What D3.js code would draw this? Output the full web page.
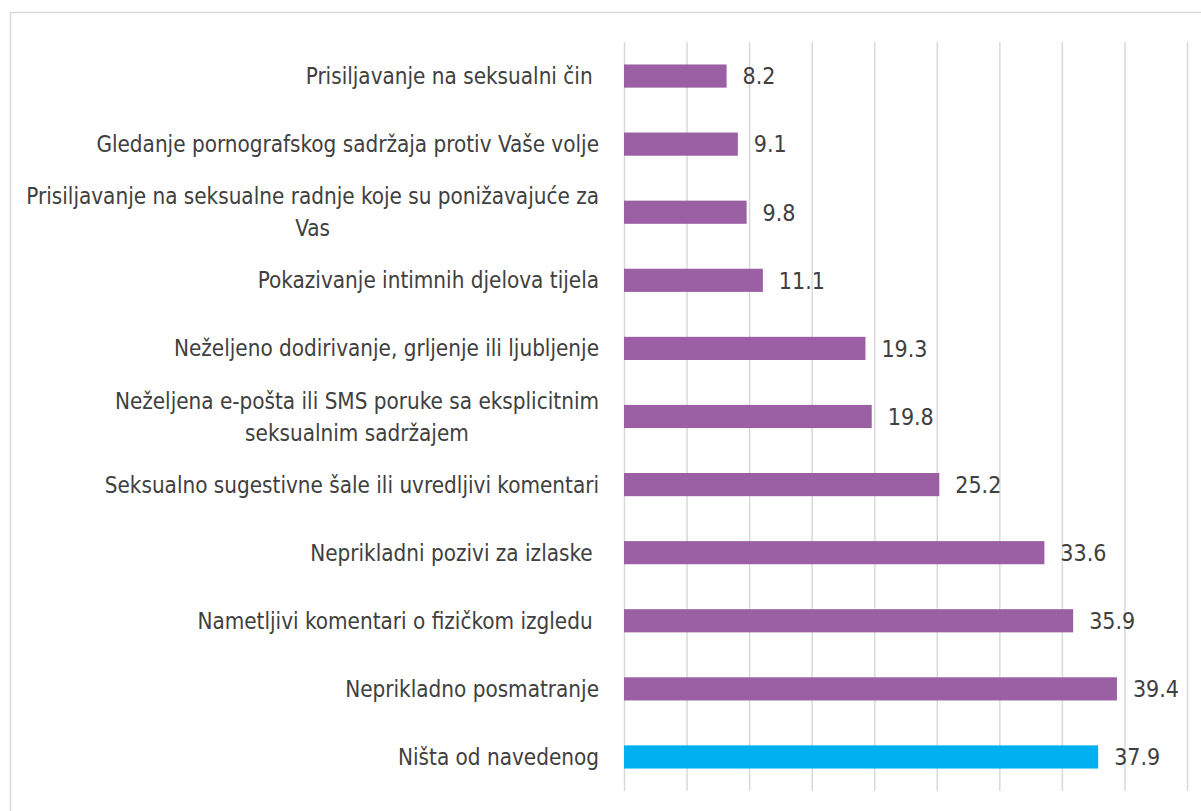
<!DOCTYPE html>
<html>
<head>
<meta charset="utf-8">
<script src="https://cdn.jsdelivr.net/npm/d3@7"></script>
<style>
  body { margin: 0; background: #fff; }
  svg text { font-family: "Liberation Sans Narrow", "DejaVu Sans Condensed", sans-serif; fill: #404040; white-space: pre; }
</style>
</head>
<body>
<div id="chart"></div>
<script>
// labels, "\n" marks where the original wraps
const categories = [
    "Prisiljavanje na seksualni čin ",
    "Gledanje pornografskog sadržaja protiv Vaše volje",
    "Prisiljavanje na seksualne radnje koje su ponižavajuće za\nVas",
    "Pokazivanje intimnih djelova tijela",
    "Neželjeno dodirivanje, grljenje ili ljubljenje",
    "Neželjena e-pošta ili SMS poruke sa eksplicitnim\nseksualnim sadržajem",
    "Seksualno sugestivne šale ili uvredljivi komentari",
    "Neprikladni pozivi za izlaske ",
    "Nametljivi komentari o fizičkom izgledu ",
    "Neprikladno posmatranje",
    "Ništa od navedenog"
];
const values = [8.2, 9.1, 9.8, 11.1, 19.3, 19.8, 25.2, 33.6, 35.9, 39.4, 37.9];
const barColors = ["#9B5FA3", "#9B5FA3", "#9B5FA3", "#9B5FA3", "#9B5FA3", "#9B5FA3",
    "#9B5FA3", "#9B5FA3", "#9B5FA3", "#9B5FA3", "#00B0F0"];
const xTicks = [0, 5, 10, 15, 20, 25, 30, 35, 40, 45];

function drawChart() {
    const width = 1201, height = 811;
    const data = categories.map((c, i) => ({ name: c, value: values[i], color: barColors[i] }));

    const svg = d3.select('#chart').append('svg')
        .attr('width', width)
        .attr('height', height);

    // outer chart frame (right/bottom edges fall outside the picture)
    svg.append('rect')
        .attr('x', 10.5).attr('y', 12.5)
        .attr('width', 1210).attr('height', 820)
        .attr('fill', 'none')
        .attr('stroke', '#D9D9D9')
        .attr('stroke-width', 1.5);

    const x = d3.scaleLinear().domain([0, 45]).range([624, 1187]);
    const y = d3.scaleBand().domain(categories).range([42, 791]).paddingInner(0.66).paddingOuter(0.33);

    // vertical gridlines
    svg.append('g')
        .attr('transform', 'translate(0,791)')
        .call(d3.axisBottom(x).tickValues(xTicks).tickSize(-(791 - 42)).tickFormat(''))
        .call(g => g.select('.domain').remove())
        .call(g => g.selectAll('line').attr('stroke', '#D9D9D9').attr('stroke-width', 1.5));

    svg.selectAll('rect.bar')
        .data(data)
        .enter()
        .append('rect')
        .attr('class', 'bar')
        .attr('x', x(0))
        .attr('y', d => y(d.name))
        .attr('width', d => x(d.value) - x(0))
        .attr('height', y.bandwidth())
        .attr('fill', d => d.color);

    // value labels
    svg.selectAll('text.val')
        .data(data)
        .enter()
        .append('text')
        .attr('class', 'val')
        .attr('x', d => x(d.value) + 16)
        .attr('y', d => y(d.name) + y.bandwidth() / 2)
        .attr('dy', '0.36em')
        .style('font-size', '23px')
        .text(d => d.value.toFixed(1));

    // category labels: block right aligned, lines centred inside it
    const lineH = 32;
    const labelRight = 599;
    data.forEach(d => {
        const lines = d.name.split('\n');
        const cy = y(d.name) + y.bandwidth() / 2;
        const t = svg.append('text')
            .style('font-size', '22.3px')
            .attr('text-anchor', 'end')
            .attr('x', labelRight);
        lines.forEach((ln, j) => {
            t.append('tspan')
                .attr('x', labelRight)
                .attr('y', cy + (j - (lines.length - 1) / 2) * lineH)
                .attr('dy', '0.36em')
                .text(ln);
        });
        if (lines.length > 1) {
            const widths = t.selectAll('tspan').nodes().map(n => n.getComputedTextLength());
            const maxW = d3.max(widths);
            const centre = labelRight - maxW / 2;
            t.attr('text-anchor', 'middle');
            t.selectAll('tspan').attr('x', centre);
        }
    });
}

drawChart();
</script>
</body>
</html>
